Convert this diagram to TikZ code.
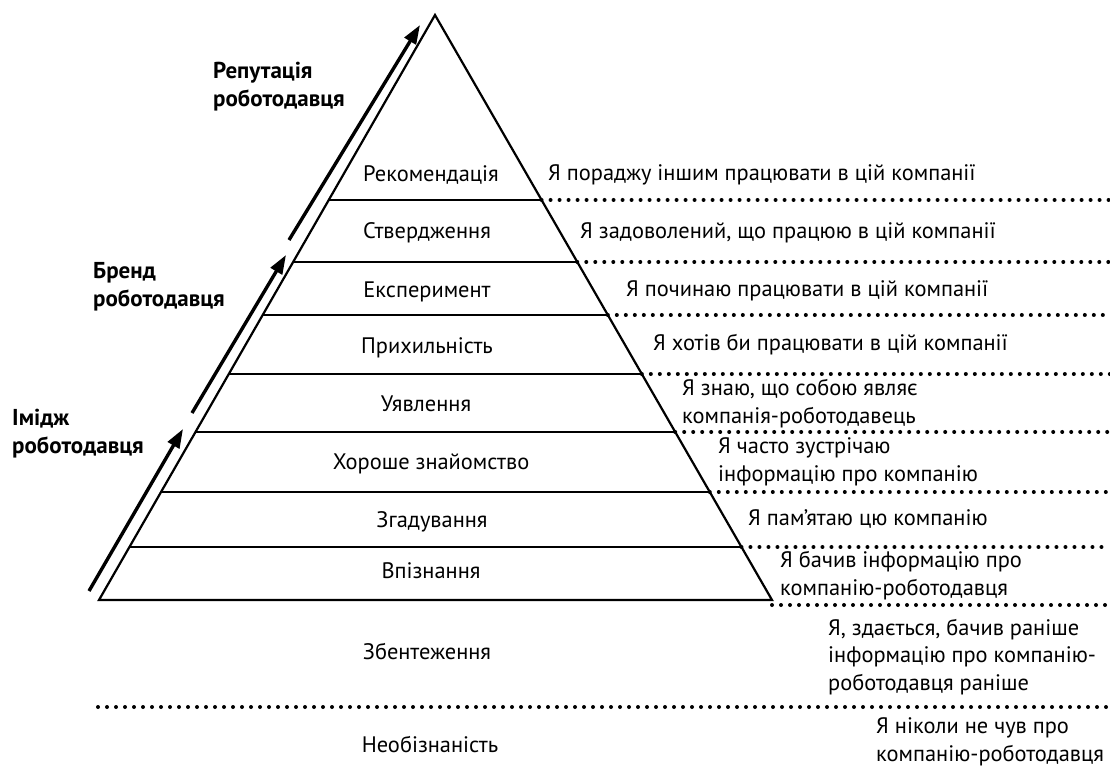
\documentclass[tikz,border=0pt]{standalone}
\usepackage{fontspec}
\setmainfont{PT Sans}
\usetikzlibrary{arrows.meta,calc}
\begin{document}
\begin{tikzpicture}[x=1pt,y=-1pt,
  edge/.style={line width=2.2pt, line join=miter},
  level/.style={line width=2pt},
  dots/.style={line width=4pt, line cap=round, dash pattern=on 0pt off 9pt},
  stage/.style={font=\fontsize{22.4}{27.5}\selectfont, anchor=base, inner sep=0pt},
  says/.style={font=\fontsize{22.4}{27.2}\selectfont, anchor=base west, align=left, inner sep=0pt},
  tag/.style={font=\bfseries\fontsize{23}{28}\selectfont, anchor=base west, align=left, inner sep=0pt},
  up/.style={line width=3.4pt, -{Triangle[length=19pt,width=13pt]}}]
\useasboundingbox (0,0) rectangle (1110,767);
\coordinate (E) at (1110,0);
\coordinate (A) at (435,15);
\coordinate (BL) at (99,600);
\coordinate (BR) at (772,600);
\draw[edge] (BL) -- (A) -- (BR) -- cycle;
\foreach \n/\t in {1/0.3162,2/0.4222,3/0.5128,4/0.6137,5/0.7128,6/0.8154,7/0.9094}{
  \coordinate (l\n) at ($(A)!\t!(BL)$);
  \coordinate (r\n) at ($(A)!\t!(BR)$);
  \draw[level] (l\n) -- (r\n);
  \draw[dots] (r\n) -- (r\n -| E);
}
\coordinate (BD) at (772,605);
\draw[dots] (BD) -- (BD -| E);
\coordinate (N1) at (98,707);
\draw[dots] (N1) -- (N1 -| E);

\node[stage] (s1) at (431,182) {Рекомендація};
\node[stage] (s2) at (427,239) {Ствердження};
\node[stage] (s3) at (427,297) {Експеримент};
\node[stage] (s4) at (427,353) {Прихильність};
\node[stage] (s5) at (426,411) {Уявлення};
\node[stage] (s6) at (431,469) {Хороше знайомство};
\node[stage] (s7) at (432,527) {Згадування};
\node[stage] (s8) at (431,578) {Впізнання};
\node[stage] (s9) at (427,659) {Збентеження};
\node[stage] (s10) at (430,752) {Необізнаність};

\node[says] (t1) at (548,181) {Я пораджу іншим працювати в цій компанії};
\node[says] (t2) at (580,239) {Я задоволений, що працюю в цій компанії};
\node[says] (t3) at (626,296) {Я починаю працювати в цій компанії};
\node[says] (t4) at (653,350) {Я хотів би працювати в цій компанії};
\node[says] (t5) at (682,423) {Я знаю, що собою являє\\компанія-роботодавець};
\node[says] (t6) at (718,481) {Я часто зустрічаю\\інформацію про компанію};
\node[says] (t7) at (748,525) {Я пам’ятаю цю компанію};
\node[says] (t8) at (780,595) {Я бачив інформацію про\\компанію-роботодавця};
\node[says] (t9) at (828,690) {Я, здається, бачив раніше\\інформацію про компанію-\\роботодавця раніше};
\node[says] (t10) at (876,761) {Я ніколи не чув про\\компанію-роботодавця};

\node[tag] (g3) at (213,107) {Репутація\\роботодавця};
\node[tag] (g2) at (93,306) {Бренд\\роботодавця};
\node[tag] (g1) at (12,453) {Імідж\\роботодавця};

\coordinate (a1s) at (89,591); \coordinate (a1e) at (183,429);
\coordinate (a2s) at (192,413); \coordinate (a2e) at (286,255);
\coordinate (a3s) at (289,240); \coordinate (a3e) at (420,25);
\draw[up] (a1s) -- (a1e);
\draw[up] (a2s) -- (a2e);
\draw[up] (a3s) -- (a3e);
\end{tikzpicture}
\end{document}
